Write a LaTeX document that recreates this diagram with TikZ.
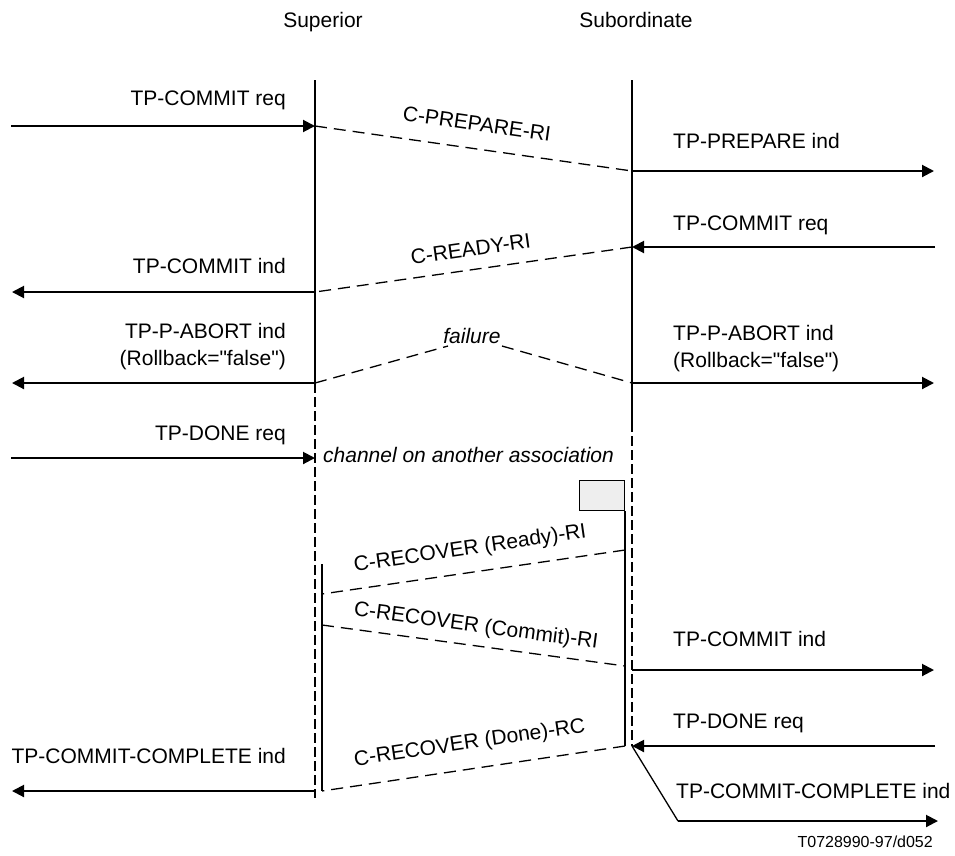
\documentclass[tikz,border=0pt]{standalone}
\usepackage{fontspec}
\setmainfont{Liberation Sans}[Ligatures=TeXOff]
\usetikzlibrary{arrows.meta}
\begin{document}
\begin{tikzpicture}[x=1pt,y=-1pt,
  every node/.style={font=\fontsize{21}{27}\selectfont, inner sep=0pt},
  life/.style={line width=2pt},
  lifedash/.style={line width=2pt, dash pattern=on 10pt off 4pt},
  msg/.style={line width=2pt, -{Triangle[length=12pt,width=12pt]}},
  pdu/.style={line width=1.3pt, dash pattern=on 12pt off 7pt},
  lblL/.style={anchor=base east, align=right},
  lblR/.style={anchor=base west, align=left},
  pdulbl/.style={midway, sloped, text depth=0pt}
]
\useasboundingbox (0,0) rectangle (955,855);
% headers
\node[anchor=base] (hsup) at (323,27) {Superior};
\node[anchor=base] (hsub) at (636,27) {Subordinate};
% lifelines
\coordinate (sTop) at (315,80);
\coordinate (sMid) at (315,383);
\coordinate (sBot) at (315,798);
\coordinate (bTop) at (632,80);
\coordinate (bMid) at (632,422);
\coordinate (bBot) at (632,746);
\draw[life] (sTop) -- (sMid);
\draw[lifedash] (sMid) -- (sBot);
\draw[life] (bTop) -- (bMid);
\draw[lifedash] (bMid) -- (bBot);
% recovery lines
\coordinate (s2Top) at (322,564);
\coordinate (s2Bot) at (322,791);
\draw[life] (s2Top) -- (s2Bot);
\node[draw, line width=1.3pt, fill={rgb,255:red,238;green,238;blue,238}, minimum width=45pt, minimum height=30pt, anchor=south east] (box) at (625,511) {};
\coordinate (b2Bot) at (625,746);
\draw[life] (box.south east) -- (b2Bot);

% left side messages
\node[lblL] (l1) at (286,105) {TP-COMMIT req};
\coordinate (l1a) at (11,126); \coordinate (l1b) at (315,126);
\draw[msg] (l1a) -- (l1b);
\node[lblL] (l2) at (286,273) {TP-COMMIT ind};
\coordinate (l2a) at (315,292); \coordinate (l2b) at (12,292);
\draw[msg] (l2a) -- (l2b);
\node[lblL] (l3) at (286,365) {TP-P-ABORT ind\\(Rollback="false")};
\coordinate (l3a) at (315,383); \coordinate (l3b) at (12,383);
\draw[msg] (l3a) -- (l3b);
\node[lblL] (l4) at (286,440) {TP-DONE req};
\coordinate (l4a) at (11,458); \coordinate (l4b) at (315,458);
\draw[msg] (l4a) -- (l4b);
\node[lblL] (l5) at (286,763) {TP-COMMIT-COMPLETE ind};
\coordinate (l5a) at (315,791); \coordinate (l5b) at (12,791);
\draw[msg] (l5a) -- (l5b);

% right side messages
\node[lblR] (r1) at (673,148) {TP-PREPARE ind};
\coordinate (r1a) at (632,171); \coordinate (r1b) at (934,171);
\draw[msg] (r1a) -- (r1b);
\node[lblR] (r2) at (673,230) {TP-COMMIT req};
\coordinate (r2a) at (935,247); \coordinate (r2b) at (632,247);
\draw[msg] (r2a) -- (r2b);
\node[lblR] (r3) at (673,367) {TP-P-ABORT ind\\(Rollback="false")};
\coordinate (r3a) at (632,383); \coordinate (r3b) at (934,383);
\draw[msg] (r3a) -- (r3b);
\node[lblR] (r4) at (673,646) {TP-COMMIT ind};
\coordinate (r4a) at (632,670); \coordinate (r4b) at (934,670);
\draw[msg] (r4a) -- (r4b);
\node[lblR] (r5) at (673,728) {TP-DONE req};
\coordinate (r5a) at (935,746); \coordinate (r5b) at (632,746);
\draw[msg] (r5a) -- (r5b);
\node[lblR] (r6) at (676,798) {TP-COMMIT-COMPLETE ind};
\coordinate (r6c) at (678,821); \coordinate (r6b) at (938,821);
\draw[line width=1.3pt] (r5b) -- (r6c);
\draw[msg] (r6c) -- (r6b);

% protocol PDUs
\draw[pdu] (l1b) -- node[pdulbl, above=17pt] (p1) {C-PREPARE-RI} (r1a);
\draw[pdu] (r2b) -- node[pdulbl, above=13pt] (p2) {C-READY-RI} (l2a);
\node[anchor=base, font=\fontsize{21}{27}\selectfont\itshape] (fail) at (472,343) {failure};
\coordinate (f1) at (448,346); \coordinate (f2) at (502,346);
\draw[pdu] (l3a) -- (f1);
\draw[pdu] (f2) -- (r3a);
\node[anchor=base west, font=\fontsize{21}{27}\selectfont\itshape] (chan) at (323,462) {channel on another association};
\coordinate (c1a) at (625,550); \coordinate (c1b) at (322,594);
\draw[pdu] (c1a) -- node[pdulbl, above=17pt] (p3) {C-RECOVER (Ready)-RI} (c1b);
\coordinate (c2a) at (322,625); \coordinate (c2b) at (625,666);
\draw[pdu] (c2a) -- node[pdulbl, above=13pt] (p4) {C-RECOVER (Commit)-RI} (c2b);
\coordinate (c3a) at (625,746); \coordinate (c3b) at (322,791);
\draw[pdu] (c3a) -- node[pdulbl, above=19pt] (p5) {C-RECOVER (Done)-RC} (c3b);

% reference
\node[anchor=base east, font=\fontsize{16}{19}\selectfont] (ref) at (933,847) {T0728990-97/d052};
\end{tikzpicture}
\end{document}
